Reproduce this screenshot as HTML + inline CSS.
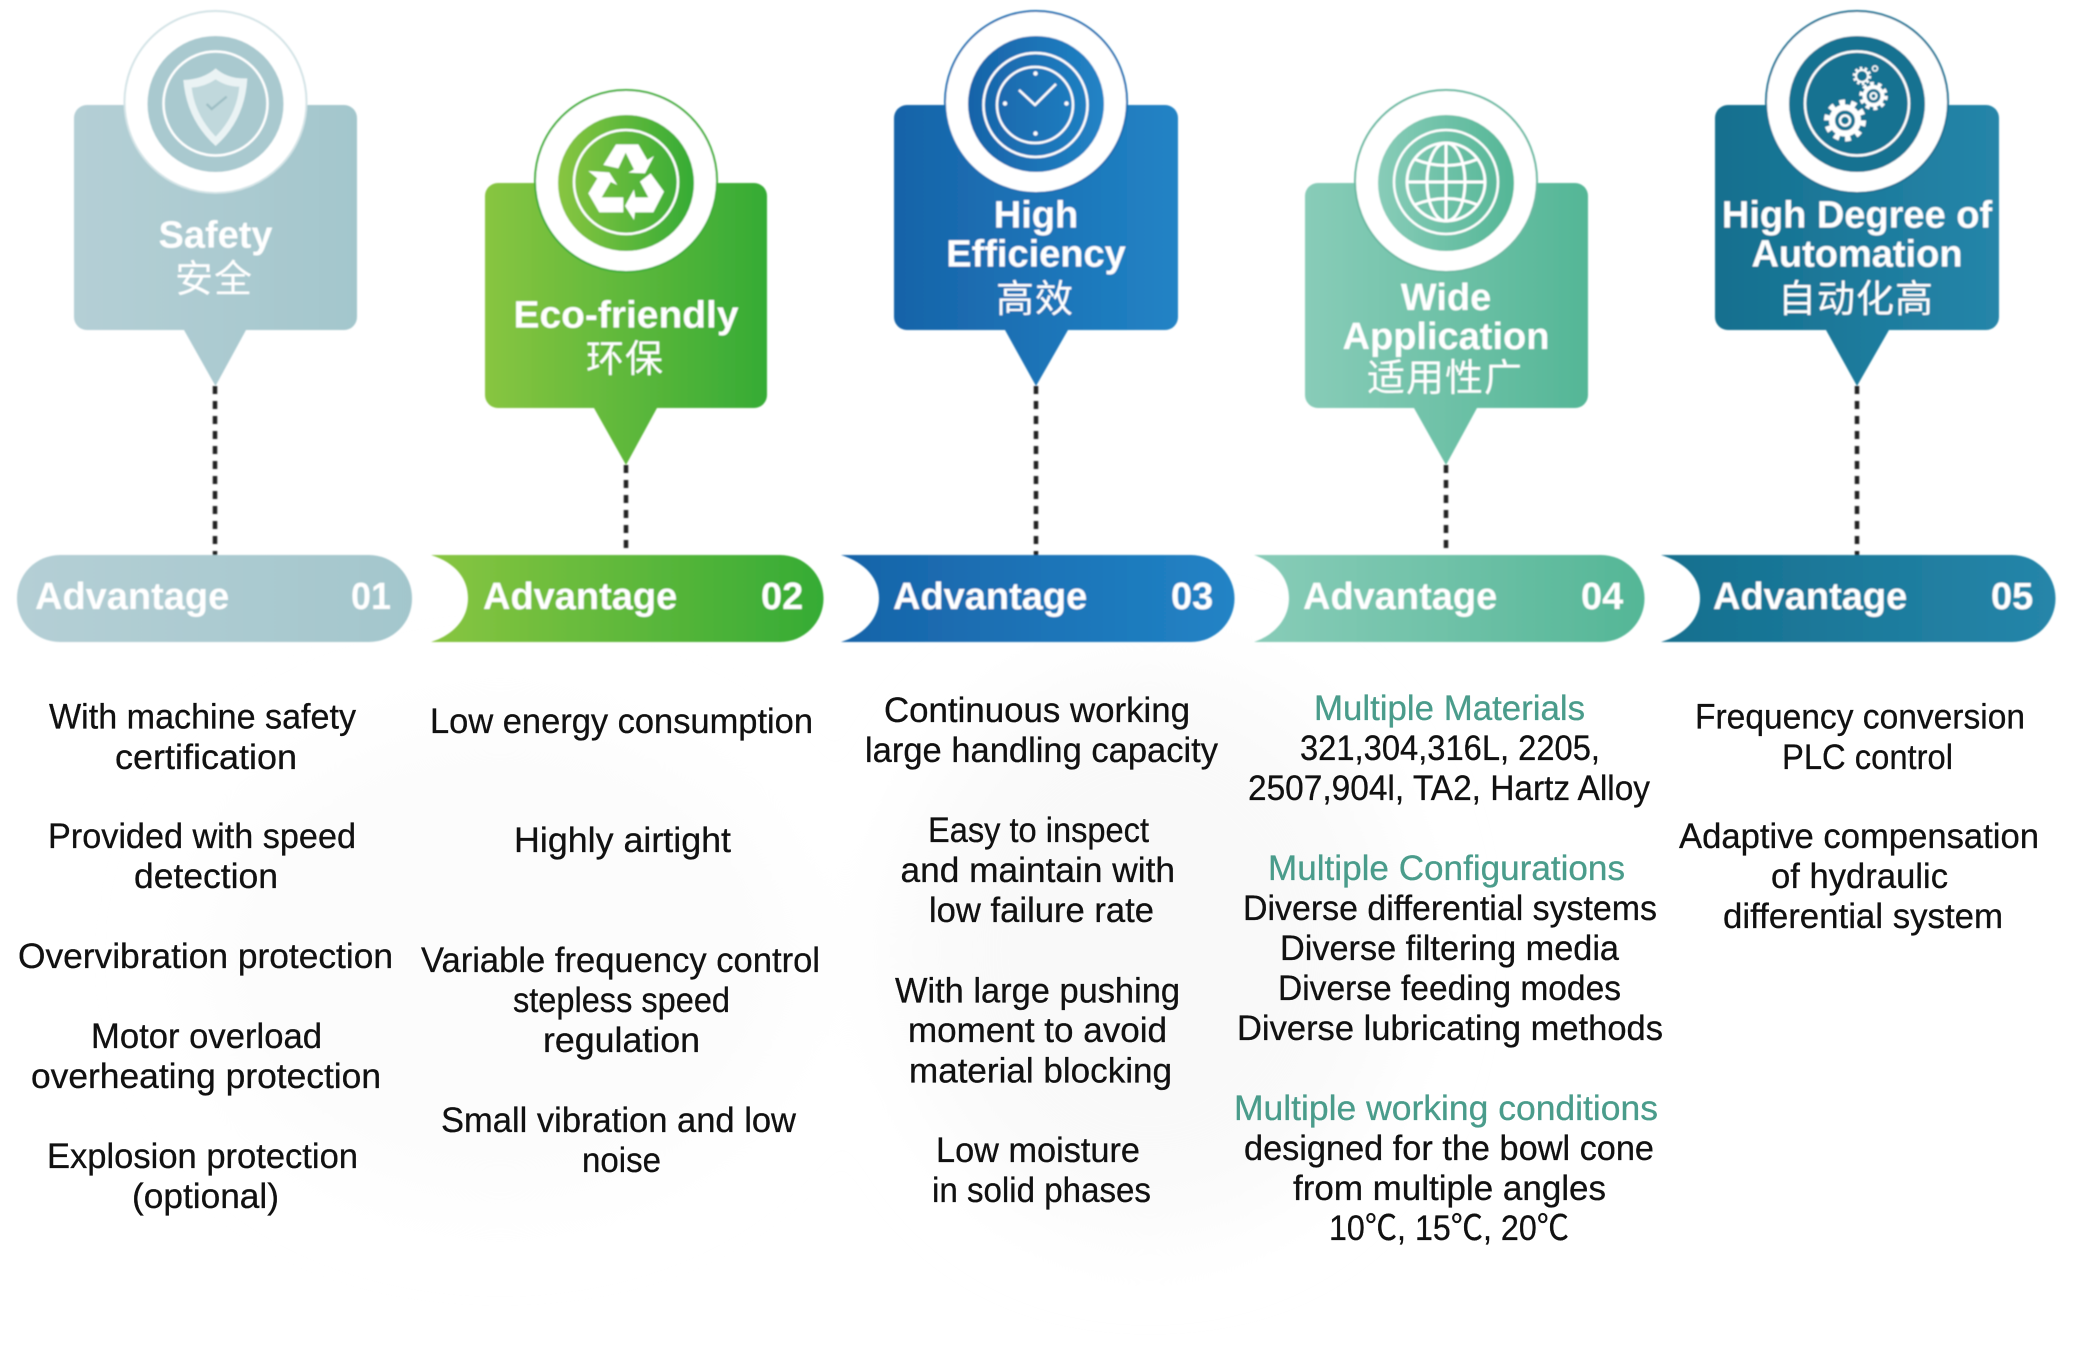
<!DOCTYPE html>
<html><head><meta charset="utf-8">
<style>
html,body{margin:0;padding:0;background:#fff}
svg{display:block}
.t{font-family:"Liberation Sans","Noto Sans CJK SC",sans-serif;font-weight:700;font-size:38px;fill:#fff;text-anchor:middle}
.c{font-family:"Liberation Sans","Noto Sans CJK SC",sans-serif;font-weight:400;font-size:38px;fill:#fff;text-anchor:middle;letter-spacing:1px}
.a{font-family:"Liberation Sans",sans-serif;font-weight:700;font-size:38px;fill:#fff}
.b{font-family:"Liberation Sans","Noto Sans CJK SC",sans-serif;font-size:35px;fill:#111;stroke:#111;stroke-width:.3}
.g{fill:#4a9c8b;stroke:#4a9c8b}
.d{stroke:#222;stroke-width:4.5;stroke-dasharray:8 7;fill:none}
.r{fill:#fff;stroke-width:2}
.i{fill:none;stroke:#fff;stroke-width:2.500}
</style></head>
<body>
<svg width="2073" height="1359" viewBox="0 0 2073 1359" xmlns="http://www.w3.org/2000/svg">
<defs>
<linearGradient id="g1"><stop offset="0" stop-color="#b4cfd5"/><stop offset="1" stop-color="#a3c6cc"/></linearGradient>
<linearGradient id="g2"><stop offset="0" stop-color="#88c540"/><stop offset="1" stop-color="#35ab35"/></linearGradient>
<linearGradient id="g3"><stop offset="0" stop-color="#1763a8"/><stop offset="1" stop-color="#2183c5"/></linearGradient>
<linearGradient id="g4"><stop offset="0" stop-color="#88ccb8"/><stop offset="1" stop-color="#54b696"/></linearGradient>
<linearGradient id="g5"><stop offset="0" stop-color="#146f8e"/><stop offset="1" stop-color="#2585a9"/></linearGradient>
<filter id="soft" x="-5%" y="-5%" width="110%" height="110%"><feGaussianBlur stdDeviation="0.7"/></filter>
<filter id="bg" x="-50%" y="-50%" width="200%" height="200%"><feGaussianBlur stdDeviation="45"/></filter>
</defs>
<rect width="2073" height="1359" fill="#fff"/>
<g filter="url(#bg)">
<ellipse cx="1150" cy="950" rx="250" ry="280" fill="#f9f9f9"/>
<ellipse cx="500" cy="960" rx="300" ry="240" fill="#fcfcfc"/>
</g>

<g filter="url(#soft)">
<!-- dotted connectors -->
<line class="d" x1="215" y1="386" x2="215" y2="555"/>
<line class="d" x1="626" y1="465" x2="626" y2="555"/>
<line class="d" x1="1036" y1="386" x2="1036" y2="555"/>
<line class="d" x1="1446" y1="465" x2="1446" y2="555"/>
<line class="d" x1="1857" y1="386" x2="1857" y2="555"/>

<!-- card 1 -->
<path fill="url(#g1)" d="M87,105H344a13,13 0 0 1 13,13V317a13,13 0 0 1-13,13H246L215.500,386 184,330H87a13,13 0 0 1-13-13V118a13,13 0 0 1 13-13Z"/>
<circle class="r" cx="215.500" cy="102" r="91" stroke="#d3e3e6"/>
<circle cx="215.500" cy="104" r="68" fill="#a9c9cf"/>
<circle class="i" cx="215.500" cy="103.500" r="52"/>
<g transform="translate(150,40) scale(.3333)">
<path fill="#eaf3f4" d="M197,85 Q235,118 292,115 Q285,240 197,318 Q110,240 100,120 Q160,118 197,85Z"/>
<path fill="#c0d8dc" d="M197,118 Q230,140 268,140 Q260,225 197,290 Q135,225 125,143 Q165,140 197,118Z"/>
<path fill="none" stroke="#9dbec4" stroke-width="7" d="M170,192 L185,207 L230,170"/>
</g>
<text class="t" x="215.500" y="247.500">Safety</text>
<text class="c" x="214" y="292">安全</text>

<!-- card 2 -->
<path fill="url(#g2)" d="M498,183H754a13,13 0 0 1 13,13V395a13,13 0 0 1-13,13H657L626,465 594,408H498a13,13 0 0 1-13-13V196a13,13 0 0 1 13-13Z"/>
<circle class="r" cx="626" cy="181" r="91" stroke="#3fae37"/>
<circle cx="626" cy="183" r="68" fill="url(#g2)"/>
<circle class="i" cx="626" cy="182" r="52"/>
<g transform="translate(560,110) scale(.3333)" fill="#fff">
<path d="M130,165 L168,103 L235,103 L262,150 L282,138 L255,190 L205,188 L222,178 L197,128 L175,175Z"/>
<path d="M85,183 L148,187 L172,225 L152,216 L125,262 L190,262 L190,307 L118,307 L85,250 L112,205Z"/>
<path d="M195,288 L222,238 L226,262 L265,262 L240,215 L272,190 L312,245 L280,307 L225,307 L222,330Z"/>
</g>
<text class="t" x="626" y="327.500" textLength="225" lengthAdjust="spacingAndGlyphs">Eco-friendly</text>
<text class="c" x="625" y="372">环保</text>

<!-- card 3 -->
<path fill="url(#g3)" d="M907,105H1165a13,13 0 0 1 13,13V317a13,13 0 0 1-13,13H1068L1036,386 1005,330H907a13,13 0 0 1-13-13V118a13,13 0 0 1 13-13Z"/>
<circle class="r" cx="1036" cy="102" r="91" stroke="#1a6fb2"/>
<circle cx="1036" cy="104" r="68" fill="url(#g3)"/>
<circle class="i" cx="1035.500" cy="105" r="52"/>
<circle class="i" stroke-width="4" cx="1035" cy="105" r="38"/>
<path class="i" stroke-width="4.500" stroke-linejoin="round" d="M1019,90 L1035,105 L1056,84"/>
<g fill="#fff"><circle cx="1035.500" cy="73.500" r="2.200"/><circle cx="1035.500" cy="133.500" r="2.200"/><circle cx="1005" cy="103.500" r="2.200"/><circle cx="1066.500" cy="103.500" r="2.200"/></g>
<text class="t" x="1036" y="227.500">High</text>
<text class="t" x="1036" y="266.500">Efficiency</text>
<text class="c" x="1035" y="312">高效</text>

<!-- card 4 -->
<path fill="url(#g4)" d="M1318,183H1575a13,13 0 0 1 13,13V395a13,13 0 0 1-13,13H1477L1446,465 1414,408H1318a13,13 0 0 1-13-13V196a13,13 0 0 1 13-13Z"/>
<circle class="r" cx="1446" cy="181" r="91" stroke="#6bb9a2"/>
<circle cx="1446" cy="183" r="68" fill="url(#g4)"/>
<circle class="i" cx="1446" cy="182" r="52"/>
<g fill="none" stroke="#fff" stroke-width="3">
<circle cx="1446" cy="182" r="39"/>
<ellipse cx="1446" cy="182" rx="19" ry="39"/>
<line x1="1446" y1="143" x2="1446" y2="221"/>
<line x1="1407" y1="182" x2="1485" y2="182"/>
<path d="M1414,159 Q1446,172 1478,159"/>
<path d="M1414,205 Q1446,192 1478,205"/>
</g>
<text class="t" x="1446" y="310">Wide</text>
<text class="t" x="1446" y="349">Application</text>
<text class="c" x="1445" y="391">适用性广</text>

<!-- card 5 -->
<path fill="url(#g5)" d="M1728,105H1986a13,13 0 0 1 13,13V317a13,13 0 0 1-13,13H1889L1857,386 1826,330H1728a13,13 0 0 1-13-13V118a13,13 0 0 1 13-13Z"/>
<circle class="r" cx="1857" cy="102" r="91" stroke="#1a7394"/>
<circle cx="1857" cy="104" r="68" fill="#177291"/>
<circle class="i" cx="1857" cy="103.500" r="52"/>
<g fill="none" stroke="#fff">
<circle cx="1845" cy="120.500" r="13" stroke-width="6"/>
<circle cx="1845" cy="120.500" r="18" stroke-width="6" stroke-dasharray="5.500 5.810"/>
<circle cx="1845" cy="120.500" r="5" stroke-width="2.500"/>
<circle cx="1873.500" cy="96" r="9" stroke-width="4"/>
<circle cx="1873.500" cy="96" r="12" stroke-width="4.500" stroke-dasharray="3.800 3.740"/>
<circle cx="1873.500" cy="96" r="3" stroke-width="2"/>
<circle cx="1862" cy="76" r="6" stroke-width="2"/>
<circle cx="1862" cy="76" r="8" stroke-width="2.500" stroke-dasharray="2.500 2.530"/>
<circle cx="1875" cy="68.500" r="2.500" stroke-width="1.500"/>
</g>
<text class="t" x="1857" y="227.500">High Degree of</text>
<text class="t" x="1857" y="266.500">Automation</text>
<text class="c" x="1856" y="312">自动化高</text>

<!-- pills -->
<rect x="17" y="555" width="395" height="87" rx="43" fill="url(#g1)"/>
<path fill="url(#g2)" d="M431,555H780a43,43 0 0 1 0,87H431C456,634 468,617 468,598S456,563 431,555Z"/>
<path fill="url(#g3)" d="M841,555H1191a43,43 0 0 1 0,87H841C866,634 879,617 879,598S866,563 841,555Z"/>
<path fill="url(#g4)" d="M1254,555H1601a43,43 0 0 1 0,87H1254C1277,634 1289,617 1289,598S1277,563 1254,555Z"/>
<path fill="url(#g5)" d="M1661,555H2012a43,43 0 0 1 0,87H1661C1687,634 1700,617 1700,598S1687,563 1661,555Z"/>
<text class="a" x="35" y="609">Advantage</text><text class="a" x="351" y="609" textLength="40" lengthAdjust="spacingAndGlyphs">01</text>
<text class="a" x="483" y="609">Advantage</text><text class="a" x="761" y="609">02</text>
<text class="a" x="893" y="609">Advantage</text><text class="a" x="1171" y="609">03</text>
<text class="a" x="1303" y="609">Advantage</text><text class="a" x="1581" y="609">04</text>
<text class="a" x="1713" y="609">Advantage</text><text class="a" x="1991" y="609">05</text>
</g>

<!-- column 1 -->
<text class="b" x="49" y="728.500" textLength="307" lengthAdjust="spacingAndGlyphs">With machine safety</text>
<text class="b" x="115" y="769" textLength="182" lengthAdjust="spacingAndGlyphs">certification</text>
<text class="b" x="48" y="848" textLength="308" lengthAdjust="spacingAndGlyphs">Provided with speed</text>
<text class="b" x="134" y="888" textLength="144" lengthAdjust="spacingAndGlyphs">detection</text>
<text class="b" x="18" y="968" textLength="375" lengthAdjust="spacingAndGlyphs">Overvibration protection</text>
<text class="b" x="91" y="1048" textLength="231" lengthAdjust="spacingAndGlyphs">Motor overload</text>
<text class="b" x="31" y="1088" textLength="350" lengthAdjust="spacingAndGlyphs">overheating protection</text>
<text class="b" x="47" y="1168" textLength="311" lengthAdjust="spacingAndGlyphs">Explosion protection</text>
<text class="b" x="132" y="1208" textLength="147" lengthAdjust="spacingAndGlyphs">(optional)</text>

<!-- column 2 -->
<text class="b" x="430" y="733" textLength="383" lengthAdjust="spacingAndGlyphs">Low energy consumption</text>
<text class="b" x="514" y="852" textLength="217" lengthAdjust="spacingAndGlyphs">Highly airtight</text>
<text class="b" x="421" y="972" textLength="399" lengthAdjust="spacingAndGlyphs">Variable frequency control</text>
<text class="b" x="513" y="1012" textLength="217" lengthAdjust="spacingAndGlyphs">stepless speed</text>
<text class="b" x="543" y="1052" textLength="157" lengthAdjust="spacingAndGlyphs">regulation</text>
<text class="b" x="441" y="1132" textLength="355" lengthAdjust="spacingAndGlyphs">Small vibration and low</text>
<text class="b" x="582" y="1172" textLength="79" lengthAdjust="spacingAndGlyphs">noise</text>

<!-- column 3 -->
<text class="b" x="884" y="722" textLength="306" lengthAdjust="spacingAndGlyphs">Continuous working</text>
<text class="b" x="865" y="762" textLength="353" lengthAdjust="spacingAndGlyphs">large handling capacity</text>
<text class="b" x="928" y="842" textLength="221" lengthAdjust="spacingAndGlyphs">Easy to inspect</text>
<text class="b" x="900.500" y="882" textLength="274.500" lengthAdjust="spacingAndGlyphs">and maintain with</text>
<text class="b" x="929" y="922" textLength="225" lengthAdjust="spacingAndGlyphs">low failure rate</text>
<text class="b" x="895" y="1002.500" textLength="285" lengthAdjust="spacingAndGlyphs">With large pushing</text>
<text class="b" x="908" y="1042" textLength="259" lengthAdjust="spacingAndGlyphs">moment to avoid</text>
<text class="b" x="909" y="1082.500" textLength="263" lengthAdjust="spacingAndGlyphs">material blocking</text>
<text class="b" x="936" y="1162" textLength="204" lengthAdjust="spacingAndGlyphs">Low moisture</text>
<text class="b" x="932" y="1202" textLength="219" lengthAdjust="spacingAndGlyphs">in solid phases</text>

<!-- column 4 -->
<text class="b g" x="1314" y="720" textLength="271" lengthAdjust="spacingAndGlyphs">Multiple Materials</text>
<text class="b" x="1300" y="760" textLength="300" lengthAdjust="spacingAndGlyphs">321,304,316L, 2205,</text>
<text class="b" x="1248" y="800" textLength="402" lengthAdjust="spacingAndGlyphs">2507,904l, TA2, Hartz Alloy</text>
<text class="b g" x="1268" y="880" textLength="357" lengthAdjust="spacingAndGlyphs">Multiple Configurations</text>
<text class="b" x="1243" y="920" textLength="414" lengthAdjust="spacingAndGlyphs">Diverse differential systems</text>
<text class="b" x="1280" y="960" textLength="339" lengthAdjust="spacingAndGlyphs">Diverse filtering media</text>
<text class="b" x="1278" y="1000" textLength="343" lengthAdjust="spacingAndGlyphs">Diverse feeding modes</text>
<text class="b" x="1237" y="1040" textLength="426" lengthAdjust="spacingAndGlyphs">Diverse lubricating methods</text>
<text class="b g" x="1234" y="1120" textLength="424" lengthAdjust="spacingAndGlyphs">Multiple working conditions</text>
<text class="b" x="1244" y="1160" textLength="410" lengthAdjust="spacingAndGlyphs">designed for the bowl cone</text>
<text class="b" x="1293" y="1200" textLength="313" lengthAdjust="spacingAndGlyphs">from multiple angles</text>
<text class="b" x="1329" y="1240" textLength="240" lengthAdjust="spacingAndGlyphs">10℃, 15℃, 20℃</text>

<!-- column 5 -->
<text class="b" x="1695" y="728.500" textLength="330" lengthAdjust="spacingAndGlyphs">Frequency conversion</text>
<text class="b" x="1782" y="769" textLength="171" lengthAdjust="spacingAndGlyphs">PLC control</text>
<text class="b" x="1679" y="848" textLength="360" lengthAdjust="spacingAndGlyphs">Adaptive compensation</text>
<text class="b" x="1771" y="888" textLength="177" lengthAdjust="spacingAndGlyphs">of hydraulic</text>
<text class="b" x="1723" y="928" textLength="280" lengthAdjust="spacingAndGlyphs">differential system</text>
</svg>
</body></html>
